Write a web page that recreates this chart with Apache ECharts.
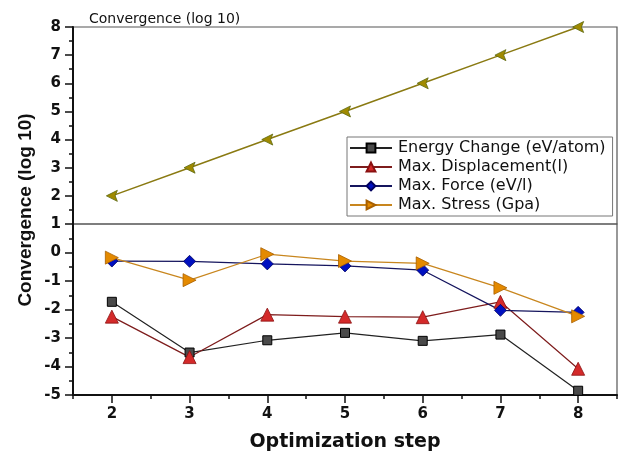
<!DOCTYPE html>
<html>
<head>
<meta charset="utf-8">
<script src="https://cdn.jsdelivr.net/npm/echarts@6/dist/echarts.min.js"></script>
<style>
  html, body { margin: 0; padding: 0; background: #fff; }
  #chart { width: 619px; height: 456px; }
</style>
</head>
<body>
<div id="chart"></div>
<script>
// Optimization steps and log10 convergence values per criterion
const steps = [2, 3, 4, 5, 6, 7, 8];
const energyChange = [-1.73, -3.51, -3.08, -2.82, -3.10, -2.88, -4.85];
const maxDisplacement = [-2.25, -3.67, -2.18, -2.25, -2.27, -1.73, -4.08];
const maxForce = [-0.30, -0.31, -0.40, -0.47, -0.62, -2.03, -2.10];
const maxStress = [-0.18, -0.97, -0.06, -0.30, -0.38, -1.24, -2.24];
const upperTrace = [2, 3, 4, 5, 6, 7, 8];

const stepTicks = [2, 3, 4, 5, 6, 7, 8];
const stepHalfTicks = [1.5, 2.5, 3.5, 4.5, 5.5, 6.5, 7.5, 8.5];
const seriesNames = ['Energy Change (eV/atom)', 'Max. Displacement(l)', 'Max. Force (eV/l)', 'Max. Stress (Gpa)'];

const pairs = (ys) => steps.map((s, i) => [s, ys[i]]);
const FONT = '"DejaVu Sans", sans-serif';
const FONT_NARROW = '"Liberation Sans", Arial, sans-serif';

const chart = echarts.init(document.getElementById('chart'), null, { renderer: 'canvas' });

const yCommon = {
  type: 'value',
  interval: 1,
  axisLine: { show: true, onZero: false, lineStyle: { color: '#111', width: 2 } },
  axisTick: { show: true, inside: false, length: 8, lineStyle: { color: '#111', width: 1.5 } },
  minorTick: { show: true, splitNumber: 2, length: 4, lineStyle: { color: '#111', width: 1.5 } },
  splitLine: { show: false },
  axisLabel: { color: '#111', fontFamily: FONT, fontWeight: 'bold', fontSize: 15, margin: 12 }
};

chart.setOption({
  animation: false,
  backgroundColor: '#fff',
  title: {
    text: 'Convergence (log 10)',
    left: 84, top: 7,
    textStyle: { fontFamily: FONT, fontWeight: 'normal', fontSize: 14, color: '#111' }
  },
  graphic: [{
    type: 'text',
    x: 26, y: 210,
    rotation: Math.PI / 2,
    style: {
      text: 'Convergence (log 10)',
      font: 'bold 19px ' + FONT_NARROW,
      fill: '#111',
      align: 'center',
      verticalAlign: 'middle'
    }
  }],
  legend: {
    data: seriesNames,
    orient: 'vertical',
    left: 347, top: 137,
    itemWidth: 42, itemHeight: 11,
    itemGap: 1,
    padding: [2, 7, 2, 2],
    backgroundColor: '#fff',
    borderColor: '#777', borderWidth: 1,
    textStyle: { fontFamily: FONT, fontSize: 16, lineHeight: 18, color: '#111', padding: [0, 0, 0, 1] }
  },
  grid: [
    { left: 73, right: 2, top: 27, height: 197, show: true, borderColor: '#555', borderWidth: 1.2, backgroundColor: 'transparent' },
    { left: 73, right: 2, top: 224, bottom: 61, show: true, borderColor: '#555', borderWidth: 1.2, backgroundColor: 'transparent' }
  ],
  xAxis: [
    { type: 'value', gridIndex: 0, min: 1.5, max: 8.5, show: false },
    {
      type: 'value', gridIndex: 1, min: 1.5, max: 8.5, position: 'bottom',
      name: 'Optimization step', nameLocation: 'middle', nameGap: 38,
      nameTextStyle: { fontFamily: FONT, fontWeight: 'bold', fontSize: 19, color: '#111' },
      axisLine: { show: true, onZero: false, lineStyle: { color: '#111', width: 2 } },
      axisTick: { show: true, length: 8, customValues: stepTicks, lineStyle: { color: '#111', width: 1.5 } },
      axisLabel: { customValues: stepTicks, color: '#111', fontFamily: FONT, fontWeight: 'bold', fontSize: 15, margin: 12 },
      splitLine: { show: false }
    },
    {
      type: 'value', gridIndex: 1, min: 1.5, max: 8.5, position: 'bottom',
      axisLine: { show: false, onZero: false },
      axisTick: { show: true, length: 4, customValues: stepHalfTicks, lineStyle: { color: '#111', width: 1.5 } },
      axisLabel: { show: false, customValues: stepHalfTicks },
      splitLine: { show: false }
    }
  ],
  yAxis: [
    Object.assign({}, yCommon, { gridIndex: 0, min: 1, max: 8, axisLabel: Object.assign({}, yCommon.axisLabel, { showMinLabel: false }) }),
    Object.assign({}, yCommon, { gridIndex: 1, min: -5, max: 1 })
  ],
  series: [
    {
      name: 'upper', type: 'line', xAxisIndex: 0, yAxisIndex: 0,
      data: pairs(upperTrace),
      symbol: 'path://M0,5 L10,0 L8,5 L10,10 Z', symbolSize: 11,
      lineStyle: { color: '#8a7a12', width: 1.5 },
      itemStyle: { color: '#a08a00', borderColor: '#5d6a12', borderWidth: 0.8 }
    },
    {
      name: seriesNames[0], type: 'line', xAxisIndex: 1, yAxisIndex: 1,
      data: pairs(energyChange),
      symbol: 'rect', symbolSize: 9,
      lineStyle: { color: '#222', width: 1.2 },
      itemStyle: { color: '#4a4a4a', borderColor: '#000', borderWidth: 1 }
    },
    {
      name: seriesNames[1], type: 'line', xAxisIndex: 1, yAxisIndex: 1,
      data: pairs(maxDisplacement),
      symbol: 'triangle', symbolSize: 13,
      lineStyle: { color: '#7e1c1c', width: 1.2 },
      itemStyle: { color: '#d42a2a', borderColor: '#8a1010', borderWidth: 0.8 }
    },
    {
      name: seriesNames[2], type: 'line', xAxisIndex: 1, yAxisIndex: 1,
      data: pairs(maxForce),
      symbol: 'diamond', symbolSize: 12,
      lineStyle: { color: '#15155e', width: 1.2 },
      itemStyle: { color: '#0010c0', borderColor: '#000060', borderWidth: 0.8 }
    },
    {
      name: seriesNames[3], type: 'line', xAxisIndex: 1, yAxisIndex: 1,
      data: pairs(maxStress),
      symbol: 'path://M0,0 L10,5 L0,10 Z', symbolSize: 13,
      lineStyle: { color: '#c8861e', width: 1.2 },
      itemStyle: { color: '#e48a00', borderColor: '#a86000', borderWidth: 0.8 }
    }
  ]
});
</script>
</body>
</html>
